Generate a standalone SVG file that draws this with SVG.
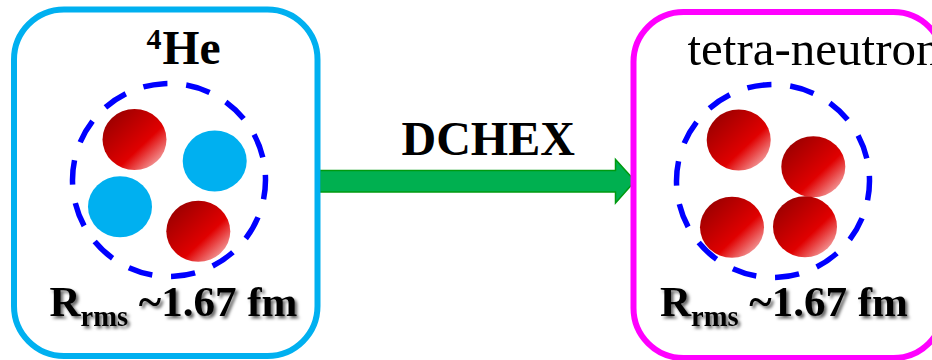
<svg xmlns="http://www.w3.org/2000/svg" width="932" height="360" viewBox="0 0 932 360">
  <style>
    text { font-family: "Liberation Serif", "Times New Roman", serif; fill: #000; }
    .b { font-weight: bold; }
    .frame { fill: #fff; stroke-width: 6; }
    .shell { fill: none; stroke: #0000ff; stroke-width: 5.5; stroke-dasharray: 24.5 18.81; }
    .proton { fill: url(#protonFill); }
    .neutron-blue { fill: #00b0f0; }
    .radius { filter: url(#textShadow); }
  </style>
  <defs>
    <linearGradient id="protonFill" x1="0.12" y1="0.12" x2="0.88" y2="0.88">
      <stop offset="0" stop-color="#9c0000"/>
      <stop offset="0.64" stop-color="#e00000"/>
      <stop offset="1" stop-color="#f39a9a"/>
    </linearGradient>
    <filter id="textShadow" x="-10%" y="-20%" width="120%" height="150%">
      <feDropShadow dx="2.5" dy="2.5" stdDeviation="1.6" flood-color="#000" flood-opacity="0.6"/>
    </filter>
  </defs>

  <g id="connectors">
    <path d="M320 170.500H615.500V159.500L635 181L615.500 203V192H320Z" fill="#00b050" stroke="#009a10" stroke-width="1.500"/>
  </g>

  <g id="he4">
    <rect class="frame" x="14" y="9.500" width="303.500" height="346.500" rx="50" ry="50" stroke="#00b0f0"/>
    <circle class="shell" cx="169" cy="180" r="96.500" transform="rotate(-3 169 180)"/>
    <ellipse class="proton" cx="134.500" cy="139.500" rx="32" ry="30.500"/>
    <ellipse class="neutron-blue" cx="214.700" cy="161" rx="32" ry="30.500"/>
    <ellipse class="neutron-blue" cx="120" cy="206.700" rx="32" ry="30.500"/>
    <ellipse class="proton" cx="198.300" cy="231.300" rx="32" ry="30.500"/>
    <text class="b" x="146.500" y="49" font-size="30">4</text>
    <text class="b" x="162.500" y="63.500" font-size="47.500">He</text>
    <text class="b radius" x="49.500" y="315.500" font-size="43">R<tspan font-size="28.500" dy="10.500">rms</tspan><tspan dy="-10.500"> ~1.67 fm</tspan></text>
  </g>

  <g id="tetra-neutron">
    <rect class="frame" x="633.500" y="12" width="310" height="346" rx="50" ry="50" stroke="#ff00ff"/>
    <circle class="shell" cx="773" cy="181" r="96.500" transform="rotate(-3 773 181)"/>
    <ellipse class="proton" cx="738.700" cy="140" rx="32" ry="30.500"/>
    <ellipse class="proton" cx="813.300" cy="166.700" rx="32" ry="30.500"/>
    <ellipse class="proton" cx="732" cy="227.300" rx="32" ry="30.500"/>
    <ellipse class="proton" cx="805" cy="226.700" rx="32" ry="30.500"/>
    <text x="687.500" y="65" font-size="49">tetra-neutron</text>
    <text class="b radius" x="660" y="315.500" font-size="43">R<tspan font-size="28.500" dy="10.500">rms</tspan><tspan dy="-10.500"> ~1.67 fm</tspan></text>
  </g>

  <text class="b" x="401.500" y="155" font-size="48">DCHEX</text>
</svg>
